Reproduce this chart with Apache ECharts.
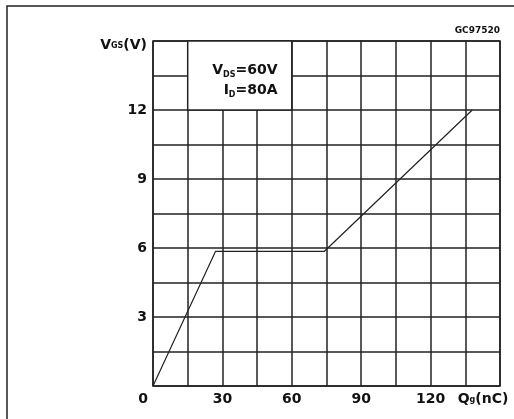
<!DOCTYPE html>
<html>
<head>
<meta charset="utf-8">
<script src="https://cdn.jsdelivr.net/npm/echarts@6/dist/echarts.min.js"></script>
<style>html,body{margin:0;padding:0;background:#fff;}#c{width:514px;height:419px;}</style>
</head>
<body>
<div id="c"></div>
<script>
// Data
var qgNC = [0, 27, 74, 138];
var vgsV = [0, 5.85, 5.85, 12];
var xTickLabels = { 0: '0', 30: '30', 60: '60', 90: '90', 120: '120', 150: 'Q{sub|g}(nC)' };
var yTickLabels = { 3: '3', 6: '6', 9: '9', 12: '12' };
var yAxisTitle = 'V{sub|GS}(V)';
var annotBox = [[15, 12], [60, 15]];
var annotText = ['V{sub|DS}=60V', 'I{sub|D}=80A'];
var codeLabel = 'GC97520';

var FONT = 'DejaVu Sans';
var INK = '#222';
var SUB = { fontFamily: FONT, fontSize: 8, fontWeight: 'bold', color: '#111', verticalAlign: 'bottom', padding: [0, 0, 2, 0] };
var chart = echarts.init(document.getElementById('c'));
chart.setOption({
  animation: false,
  grid: { left: 153, right: 14, top: 41, bottom: 33, outerBoundsMode: 'none', containLabel: false, show: true, borderColor: INK, borderWidth: 1.5, backgroundColor: '#fff' },
  xAxis: {
    type: 'value', min: 0, max: 150, interval: 15,
    axisLine: { show: false }, axisTick: { show: false },
    splitLine: { show: true, lineStyle: { color: INK, width: 1.5 } },
    axisLabel: {
      margin: 6, color: '#111', fontFamily: FONT, fontSize: 14, fontWeight: 'bold',
      hideOverlap: false, showMinLabel: true, showMaxLabel: true,
      formatter: function (v) {
        var t = xTickLabels[v];
        if (t === undefined) return '';
        if (v === 0) return '{z|0}';
        if (v === 150) return t + '{q|}';
        return t;
      },
      rich: {
        z: { fontFamily: FONT, fontSize: 14, fontWeight: 'bold', color: '#111', padding: [0, 20, 0, 0] },
        q: { padding: [0, 34, 0, 0] },
        sub: SUB
      }
    }
  },
  yAxis: {
    type: 'value', min: 0, max: 15, interval: 1.5,
    axisLine: { show: false }, axisTick: { show: false },
    splitLine: { show: true, lineStyle: { color: INK, width: 1.5 } },
    name: yAxisTitle, nameLocation: 'end', nameGap: -4,
    nameTextStyle: {
      fontFamily: FONT, fontSize: 14, fontWeight: 'bold', color: '#111',
      align: 'right', verticalAlign: 'middle', padding: [0, 6, 0, 0],
      rich: { sub: SUB }
    },
    axisLabel: {
      margin: 6, color: '#111', fontFamily: FONT, fontSize: 14, fontWeight: 'bold',
      formatter: function (v) {
        var key = Math.round(v * 10) / 10;
        var t = yTickLabels[key];
        return t === undefined ? '' : t;
      }
    }
  },
  series: [{
    type: 'line',
    data: qgNC.map(function (q, i) { return [q, vgsV[i]]; }),
    symbol: 'none',
    lineStyle: { color: INK, width: 1.2 },
    markArea: {
      silent: true,
      itemStyle: { color: '#fff', borderColor: INK, borderWidth: 1.5 },
      label: {
        show: true, position: 'insideRight', distance: 15, offset: [0, 5],
        formatter: annotText.join('\n'),
        fontFamily: FONT, fontSize: 14, fontWeight: 'bold', color: '#111', lineHeight: 20, align: 'right',
        rich: { sub: SUB }
      },
      data: [[{ coord: annotBox[0] }, { coord: annotBox[1] }]]
    }
  }],
  graphic: [
    { type: 'rect', shape: { x: 7, y: 6, width: 530, height: 430 }, style: { fill: 'none', stroke: INK, lineWidth: 1.5 }, silent: true, z: 100 },
    { type: 'text', x: 500, y: 31, style: { text: codeLabel, fontFamily: FONT, fontSize: 9, fontWeight: 'bold', fill: '#111', align: 'right', verticalAlign: 'middle' }, z: 100 }
  ]
});
</script>
</body>
</html>
